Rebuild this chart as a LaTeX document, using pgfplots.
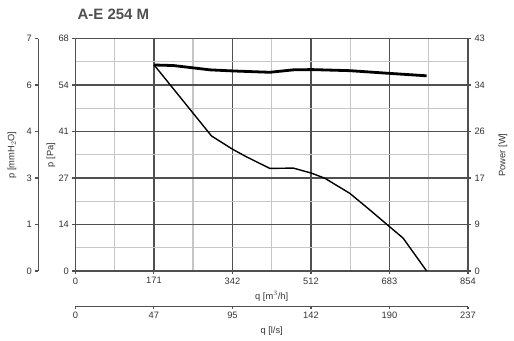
\documentclass[border=0pt]{standalone}
\usepackage{fontspec}
\setmainfont{Liberation Sans}
\usepackage{pgfplots}
\pgfplotsset{compat=1.18}
\definecolor{axc}{HTML}{505050}
\definecolor{gridminor}{HTML}{C6C6C6}
\definecolor{txt}{HTML}{333333}
\begin{document}
\begin{tikzpicture}
\useasboundingbox (0pt,0pt) rectangle (514pt,340pt);
\pgfplotsset{every axis/.append style={scale only axis,
  font=\fontsize{9.3}{10}\selectfont,
  /pgf/number format/assume math mode=true,
  tick label style={color=txt},
  axis line style={axc, line width=1.6pt},
  major tick length=3pt, minor tick length=0pt,
  tick style={axc, line width=1.1pt}, tick align=outside}}
% main pressure axis
\begin{axis}[at={(75.4pt,69pt)}, anchor=south west,
  width=392.6pt, height=232.5pt,
  xmin=0, xmax=854, ymin=0, ymax=68,
  xtick={0,170.8,341.6,512.4,683.2,854},
  xticklabels={0,171,342,512,683,854},
  ytick={0,13.6,27.2,40.8,54.4,68},
  yticklabels={0,14,27,41,54,68},
  minor xtick={85.4,256.2,427,597.8,768.6},
  minor ytick={6.8,20.4,34,47.6,61.2},
  xtick pos=bottom, ytick pos=left,
  grid=both,
  major grid style={axc, line width=1.5pt},
  minor grid style={gridminor, line width=1.4pt}]
\addplot[black, line width=1.4pt] coordinates {
 (171,60.3) (296,39.5) (342,35.6) (372,33.4) (423,30.0) (474,30.1)
 (514,28.6) (543,27.1) (597,22.7) (641,17.8) (683,13.0) (713,9.6) (764,0)};
\end{axis}
% power axis
\begin{axis}[at={(75.4pt,69pt)}, anchor=south west,
  width=392.6pt, height=232.5pt,
  xmin=0, xmax=854, ymin=0, ymax=43,
  hide x axis, axis y line*=right,
  ytick={0,8.6,17.2,25.8,34.4,43},
  yticklabels={0,9,17,26,34,43}]
\addplot[black, line width=2.8pt] coordinates {
 (171,38.1) (213,38.0) (293,37.2) (342,37.0) (423,36.75) (474,37.2)
 (514,37.25) (597,37.05) (683,36.55) (764,36.1)};
\end{axis}
% mmH2O axis
\begin{axis}[at={(38.3pt,69pt)}, anchor=south west,
  width=1pt, height=232.5pt,
  xmin=0, xmax=1, ymin=0, ymax=68,
  axis x line=none, axis y line*=left,
  ytick={0,13.6,27.2,40.8,54.4,68},
  yticklabels={0,1,3,4,6,7}]
\end{axis}
% l/s axis
\begin{axis}[at={(75.4pt,33.3pt)}, anchor=south west,
  width=392.6pt, height=1pt,
  xmin=0, xmax=237.2, ymin=0, ymax=1,
  axis y line=none, axis x line*=bottom,
  major tick length=2pt,
  xtick={0,47.44,94.88,142.32,189.76,237.2},
  xticklabels={0,47,95,142,190,237}]
\end{axis}
\node[anchor=base west, text=axc, font=\fontsize{15}{16}\selectfont\bfseries] at (74pt,320pt) {A-E 254 M};
\node[text=txt, font=\fontsize{9.3}{10}\selectfont] at (271.7pt,43.5pt) {q [m$^3$/h]};
\node[text=txt, font=\fontsize{9.3}{10}\selectfont] at (271.7pt,9pt) {q [l/s]};
\node[text=txt, rotate=90, font=\fontsize{9.3}{10}\selectfont] at (51pt,185pt) {p [Pa]};
\node[text=txt, rotate=90, font=\fontsize{9.3}{10}\selectfont] at (12pt,185pt) {p [mmH$_2$O]};
\node[text=txt, rotate=90, font=\fontsize{9.3}{10}\selectfont] at (503pt,185pt) {Power [W]};
\end{tikzpicture}
\end{document}
